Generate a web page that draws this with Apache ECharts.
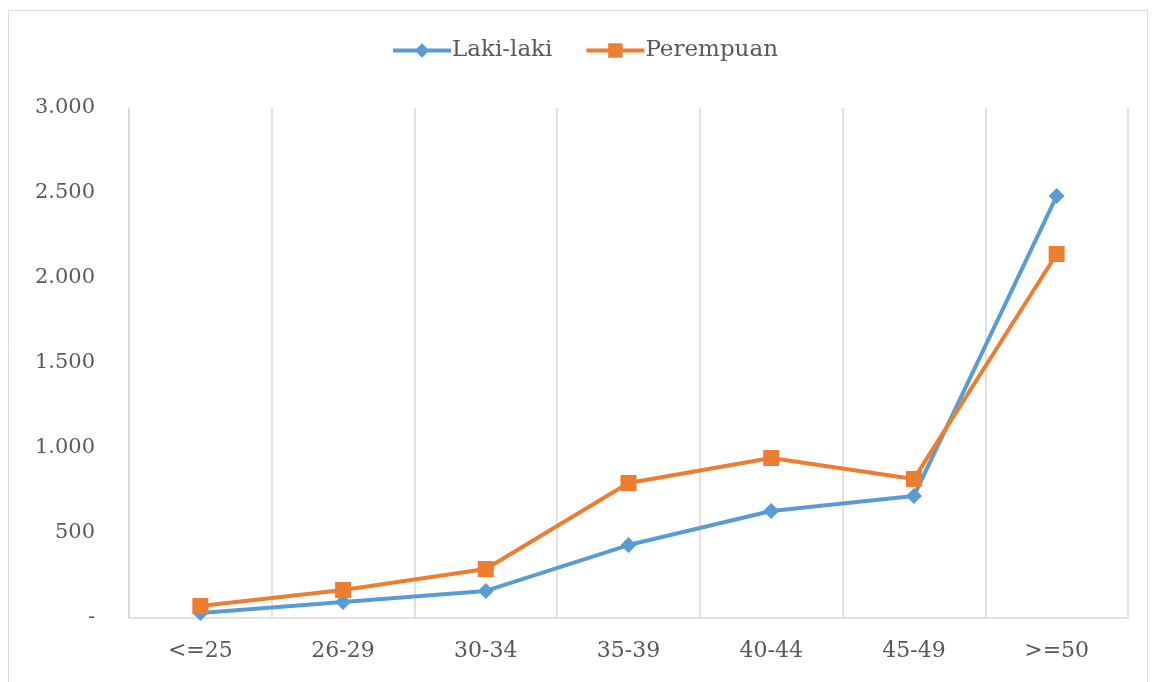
<!DOCTYPE html>
<html><head><meta charset="utf-8">
<script src="https://cdn.jsdelivr.net/npm/echarts@6/dist/echarts.min.js"></script>
<style>html,body{margin:0;padding:0;background:#fff}#c{width:1155px;height:682px}</style>
</head><body><div id="c"></div>
<script>
const categories = ['<=25','26-29','30-34','35-39','40-44','45-49','>=50'];
const lakiLaki = [30, 94, 159, 429, 629, 718, 2482];
const perempuan = [71, 165, 288, 794, 941, 818, 2141];
const yTicks = [0, 500, 1000, 1500, 2000, 2500, 3000];

const chart = echarts.init(document.getElementById('c'));
const fontFam = '"DejaVu Serif", "Liberation Serif", serif';
const fmt = v => v === 0 ? '-' : v.toString().replace(/\B(?=(\d{3})+(?!\d))/g, '.');
chart.setOption({
  animation: false,
  graphic: [{type:'rect', shape:{x:8.5,y:10.5,width:1139,height:680}, style:{fill:'none', stroke:'#d9d9d9', lineWidth:1}}],
  legend: {
    top: 34, left: 386, itemWidth: 58, itemHeight: 18, itemGap: 32,
    textStyle: {fontFamily: fontFam, fontSize: 23, color: '#595959', padding: [0,0,0,-4]},
    data: [
      {name: 'Laki-laki', lineStyle: {width: 4}},
      {name: 'Perempuan', lineStyle: {width: 4}}
    ]
  },
  grid: {left: 129, right: 27, top: 108, bottom: 64},
  xAxis: {
    type: 'category', data: categories, boundaryGap: true,
    axisLine: {show: true, lineStyle: {color: '#d9d9d9', width: 1.5}},
    axisTick: {show: false},
    splitLine: {show: true, lineStyle: {color: '#d9d9d9', width: 1.5}},
    axisLabel: {fontFamily: fontFam, fontSize: 22, color: '#595959', margin: 22}
  },
  yAxis: {
    type: 'value', min: yTicks[0], max: yTicks[yTicks.length-1], interval: 500,
    axisLine: {show: true, lineStyle: {color: '#d9d9d9', width: 1.5}},
    axisTick: {show: false},
    splitLine: {show: false},
    axisLabel: {fontFamily: fontFam, fontSize: 21, color: '#595959', margin: 34, formatter: fmt}
  },
  series: [
    {name: 'Laki-laki', type: 'line', data: lakiLaki, symbol: 'diamond', symbolSize: 16,
     lineStyle: {color: '#5b9bd5', width: 4}, itemStyle: {color: '#5b9bd5'}},
    {name: 'Perempuan', type: 'line', data: perempuan, symbol: 'rect', symbolSize: 16,
     lineStyle: {color: '#ed7d31', width: 4}, itemStyle: {color: '#ed7d31'}}
  ]
});
</script></body></html>
